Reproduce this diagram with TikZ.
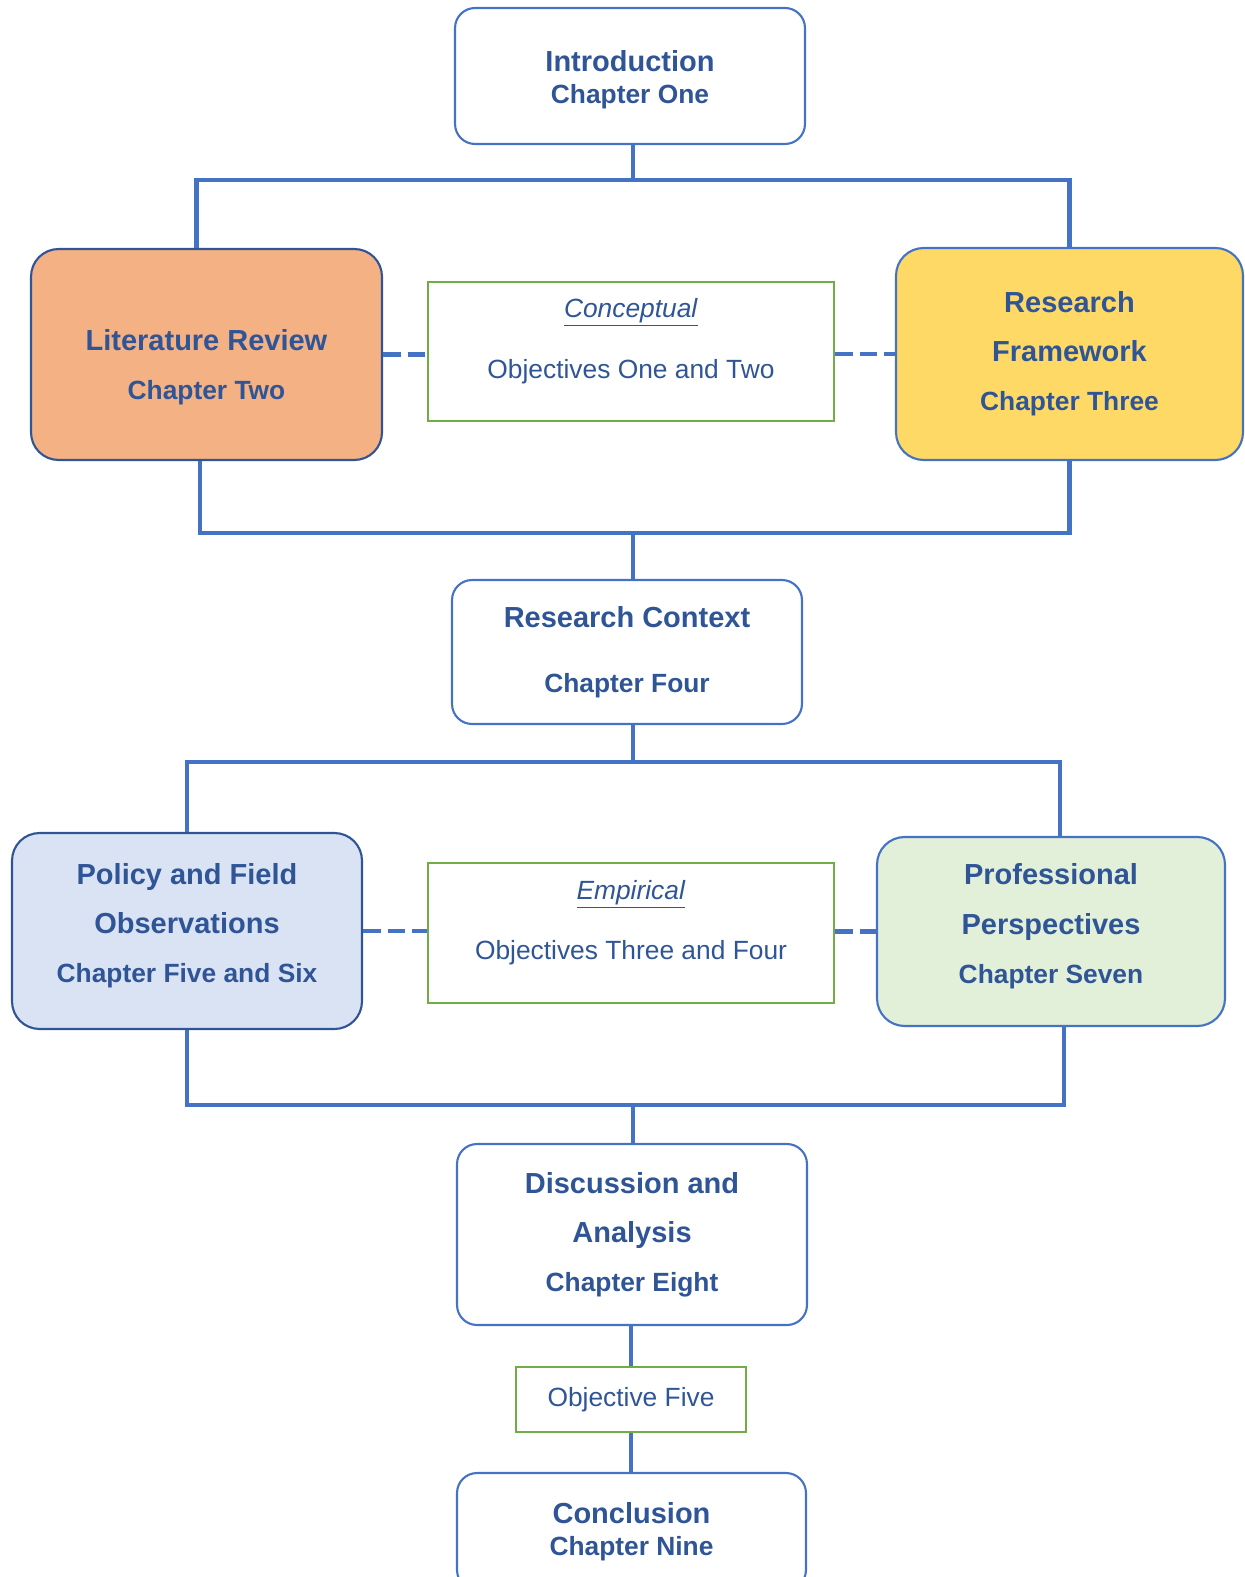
\documentclass[tikz,border=0pt]{standalone}
\usepackage{fontspec}
\setmainfont{Liberation Sans}
\usepackage{xcolor}

\definecolor{lineblue}{HTML}{4472C4}
\definecolor{textblue}{HTML}{2F5597}
\definecolor{litorange}{HTML}{F4B183}
\definecolor{rfyellow}{HTML}{FFD966}
\definecolor{policyblue}{HTML}{DAE3F3}
\definecolor{profgreen}{HTML}{E2F0D9}
\definecolor{objgreen}{HTML}{70AD47}

\newcommand{\chaptitle}[1]{{\fontsize{16.5}{18}\selectfont #1}}

\begin{document}
\begin{tikzpicture}[
        x=0.02cm, y=-0.02cm,
        chapter/.style={
            draw=lineblue,
            line width=1.2pt,
            rounded corners=0.4cm,
            text=textblue,
            align=center,
            inner sep=0pt,
            font=\fontsize{15}{18}\selectfont\bfseries
        },
        darkchapter/.style={
            chapter,
            draw=textblue,
            rounded corners=0.55cm
        },
        objective/.style={
            draw=objgreen,
            line width=1.2pt,
            text=textblue,
            align=center,
            inner sep=0pt,
            font=\fontsize{15}{18}\selectfont
        },
        link/.style={
            draw=lineblue,
            line width=2.8pt
        },
        dashlink/.style={
            link,
            dash pattern=on 10pt off 4pt
        }
    ]
        \useasboundingbox (0,0) rectangle (1244,1577);

        % chapters
        \node[chapter, minimum width=7cm, minimum height=2.72cm] (intro) at (630,76)
            {\rule{0pt}{16.5pt}\chaptitle{Introduction}\\[0pt]Chapter One};
        \node[darkchapter, fill=litorange, minimum width=7.02cm, minimum height=4.22cm] (lit) at (206.5,354.5)
            {\rule{0pt}{26pt}\chaptitle{Literature Review}\\[10pt]Chapter Two};
        \node[chapter, rounded corners=0.55cm, fill=rfyellow, minimum width=6.94cm, minimum height=4.24cm] (frame) at (1069.5,354)
            {\chaptitle{Research}\\[10pt]\chaptitle{Framework}\\[10pt]Chapter Three};
        \node[chapter, minimum width=7cm, minimum height=2.88cm] (context) at (627,652)
            {\chaptitle{Research Context}\\[19pt]Chapter Four};
        \node[darkchapter, fill=policyblue, minimum width=7cm, minimum height=3.92cm] (policy) at (187,931)
            {\chaptitle{Policy and Field}\\[10pt]\chaptitle{Observations}\\[10pt]Chapter Five and Six\rule[-9pt]{0pt}{1pt}};
        \node[chapter, rounded corners=0.55cm, fill=profgreen, minimum width=6.96cm, minimum height=3.78cm] (prof) at (1051,931.5)
            {\chaptitle{Professional}\\[10pt]\chaptitle{Perspectives}\\[10pt]Chapter Seven\rule[-9pt]{0pt}{1pt}};
        \node[chapter, minimum width=7cm, minimum height=3.62cm] (discuss) at (632,1234.5)
            {\chaptitle{Discussion and}\\[10pt]\chaptitle{Analysis}\\[10pt]Chapter Eight};
        \node[chapter, minimum width=6.98cm, minimum height=2.34cm] (concl) at (631.5,1531.5)
            {\chaptitle{Conclusion}\\[0pt]Chapter Nine};

        % objectives
        \node[objective, minimum width=8.12cm, minimum height=2.78cm] (concept) at (631,351.5)
            {\underline{\textit{Conceptual}}\\[17pt]Objectives One and Two\rule[-15pt]{0pt}{1pt}};
        \node[objective, minimum width=8.12cm, minimum height=2.8cm] (empiric) at (631,933)
            {\underline{\textit{Empirical}}\\[16pt]Objectives Three and Four\rule[-15pt]{0pt}{1pt}};
        \node[objective, minimum width=4.6cm, minimum height=1.3cm] (objfive) at (631,1399.5)
            {Objective Five};

        % junctions
        \coordinate (splitA) at (633,180);
        \coordinate (joinA) at (633,533);
        \coordinate (splitB) at (633,762);
        \coordinate (joinB) at (633,1105);

        \draw[link] (intro.south -| splitA) -- (splitA);
        \draw[link] ([xshift=-0.2cm]lit.north) |- (splitA) -| (frame.north);
        \draw[link] ([xshift=-0.13cm]lit.south) |- (joinA) -| (frame.south);
        \draw[link] (joinA) -- (context.north -| joinA);
        \draw[link] (context.south -| splitB) -- (splitB);
        \draw[link] (policy.north) |- (splitB) -| ([xshift=0.18cm]prof.north);
        \draw[link] (policy.south) |- (joinB) -| ([xshift=0.26cm]prof.south);
        \draw[link] (joinB) -- (discuss.north -| joinB);
        \draw[link] (discuss.south -| objfive.north) -- (objfive.north);
        \draw[link] (objfive.south) -- (concl.north -| objfive.south);

        \draw[dashlink] (lit.east) -- (lit.east -| concept.west);
        \draw[dashlink] (frame.west -| concept.east) -- (frame.west);
        \draw[dashlink] (policy.east) -- (policy.east -| empiric.west);
        \draw[dashlink] (prof.west -| empiric.east) -- (prof.west);
    \end{tikzpicture}
\end{document}
